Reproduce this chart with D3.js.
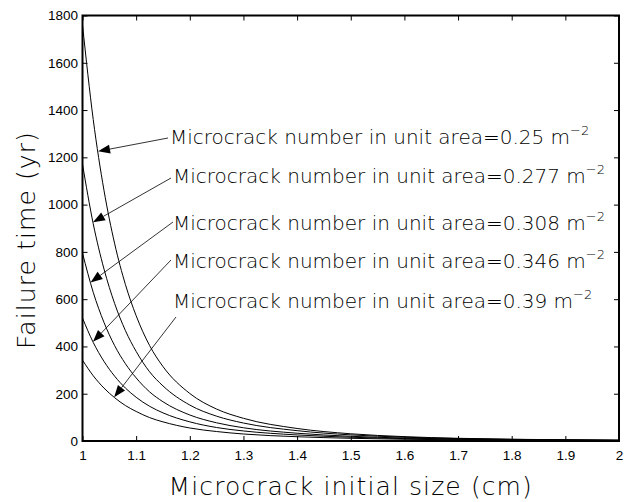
<!DOCTYPE html>
<html>
<head>
<meta charset="utf-8">
<script src="https://cdn.jsdelivr.net/npm/d3@7/dist/d3.min.js"></script>
<style>
  html, body { margin: 0; padding: 0; background: #fff; }
  svg { display: block; }
</style>
</head>
<body>
<svg id="chart" width="631" height="502"></svg>
<script>
// Initial microcrack size (cm) at which each failure time was read
const sizes = [1.00, 1.02, 1.04, 1.06, 1.08, 1.10, 1.125, 1.15, 1.2, 1.25, 1.3, 1.4, 1.5, 1.6, 1.7, 1.8, 1.9, 2.0];

// Microcrack number in unit area (m^-2) for each curve
const densities = ["0.25", "0.277", "0.308", "0.346", "0.39"];

// Failure time (yr) per curve
const time025  = [1760, 1360, 1061, 834, 662, 530, 404, 315, 201, 135, 96, 53, 30.5, 18.4, 11.4, 7.4, 5.1, 3.4];
const time0277 = [1171, 919, 728, 581, 467, 379, 293, 233, 152, 105, 76, 43.7, 25.9, 16.1, 10.2, 6.9, 4.8, 3.3];
const time0308 = [795, 629, 502, 403, 327, 267, 208, 166, 110, 77, 56, 32.9, 19.9, 12.6, 8.1, 5.5, 3.9, 2.7];
const time0346 = [520, 417, 337, 274, 224, 185, 147, 119, 81, 57, 42.5, 25.6, 15.9, 10.3, 6.8, 4.7, 3.4, 2.4];
const time039  = [342, 276, 224, 183, 150, 125, 99, 81, 55, 40, 29.6, 18.1, 11.4, 7.4, 5.0, 3.5, 2.5, 1.8];

// Size at which each label's arrow touches its curve
const arrowSizes = [1.029, 1.0195, 1.015, 1.0195, 1.059];

// Axis ticks
const xTicks = [1, 1.1, 1.2, 1.3, 1.4, 1.5, 1.6, 1.7, 1.8, 1.9, 2];
const xTickLabels = ["1", "1.1", "1.2", "1.3", "1.4", "1.5", "1.6", "1.7", "1.8", "1.9", "2"];
const yTicks = [0, 200, 400, 600, 800, 1000, 1200, 1400, 1600, 1800];
const yTickLabels = ["0", "200", "400", "600", "800", "1000", "1200", "1400", "1600", "1800"];

const series = [time025, time0277, time0308, time0346, time039];

// Layout
const plot = { left: 82.5, right: 619, top: 15.5, bottom: 441 };
const labelLayout = [
  { x: 170, y: 144, from: [168, 138] },
  { x: 173, y: 183, from: [171, 178] },
  { x: 173, y: 230, from: [173, 222] },
  { x: 173, y: 268, from: [171, 260] },
  { x: 173, y: 308, from: [176, 317] }
];

const svg = d3.select("#chart");

const x = d3.scaleLinear().domain([1, 2]).range([plot.left, plot.right]);
const y = d3.scaleLinear().domain([0, 1800]).range([plot.bottom, plot.top]);

const tickFont = "'Liberation Sans', Arial, sans-serif";
const labelFont = "'DejaVu Sans', sans-serif";

// Axes with inward ticks on all four sides
function styleAxis(g) {
  g.select(".domain").remove();
  g.selectAll(".tick line").attr("stroke", "#000").attr("stroke-width", 1);
  g.selectAll(".tick text")
    .attr("fill", "#000")
    .style("font-family", tickFont)
    .style("font-size", "13.5px");
}

svg.append("g")
  .attr("transform", `translate(0,${plot.bottom})`)
  .call(d3.axisBottom(x).tickValues(xTicks)
    .tickFormat((d, i) => xTickLabels[i]).tickSize(-5).tickSizeOuter(0).tickPadding(9))
  .call(styleAxis);

svg.append("g")
  .attr("transform", `translate(${plot.left},0)`)
  .call(d3.axisLeft(y).tickValues(yTicks)
    .tickFormat((d, i) => yTickLabels[i]).tickSize(-5).tickSizeOuter(0).tickPadding(4.5))
  .call(styleAxis);

svg.append("g")
  .attr("transform", `translate(0,${plot.top})`)
  .call(d3.axisTop(x).tickValues(xTicks).tickFormat("").tickSize(-5).tickSizeOuter(0))
  .call(styleAxis);

svg.append("g")
  .attr("transform", `translate(${plot.right},0)`)
  .call(d3.axisRight(y).tickValues(yTicks).tickFormat("").tickSize(-5).tickSizeOuter(0))
  .call(styleAxis);

// Curves
const line = d3.line()
  .x((d, i) => x(sizes[i]))
  .y(d => y(d))
  .curve(d3.curveMonotoneX);

svg.append("g")
  .selectAll("path")
  .data(series)
  .join("path")
  .attr("d", d => line(d))
  .attr("fill", "none")
  .attr("stroke", "#000")
  .attr("stroke-width", 1);

// Plot frame
svg.append("rect")
  .attr("x", plot.left)
  .attr("y", plot.top)
  .attr("width", plot.right - plot.left)
  .attr("height", plot.bottom - plot.top)
  .attr("fill", "none")
  .attr("stroke", "#000")
  .attr("stroke-width", 2);

// Read a curve's value at a given size
function valueAt(values, s) {
  const i = Math.max(1, d3.bisectLeft(sizes, s));
  const s0 = sizes[i - 1], s1 = sizes[i];
  const t = (s - s0) / (s1 - s0);
  return values[i - 1] + t * (values[i] - values[i - 1]);
}

// Labels with leader lines and filled arrowheads
const ann = svg.append("g");
densities.forEach((dens, k) => {
  const lay = labelLayout[k];
  const tipX = x(arrowSizes[k]);
  const tipY = y(valueAt(series[k], arrowSizes[k]));
  const [fx, fy] = lay.from;
  const dx = tipX - fx, dy = tipY - fy;
  const len = Math.hypot(dx, dy);
  const ux = dx / len, uy = dy / len;
  const headLen = 12, headHalf = 4.5;
  const bx = tipX - ux * headLen, by = tipY - uy * headLen;

  ann.append("line")
    .attr("x1", fx).attr("y1", fy)
    .attr("x2", bx).attr("y2", by)
    .attr("stroke", "#000")
    .attr("stroke-width", 0.8);

  ann.append("path")
    .attr("d", `M${tipX},${tipY}L${bx - uy * headHalf},${by + ux * headHalf}L${bx + uy * headHalf},${by - ux * headHalf}Z`)
    .attr("fill", "#000");

  const t = ann.append("text")
    .attr("x", lay.x)
    .attr("y", lay.y)
    .style("font-family", labelFont)
    .style("font-size", "20px")
    .style("font-weight", 300)
    .attr("fill", "#000");
  t.append("tspan").text(`Microcrack number in unit area=${dens} m`);
  t.append("tspan")
    .attr("dy", -9)
    .style("font-size", "13px")
    .text("\u22122");
});

// Axis titles
svg.append("text")
  .attr("x", (plot.left + plot.right) / 2)
  .attr("y", 495)
  .attr("text-anchor", "middle")
  .style("font-family", labelFont)
  .style("font-size", "25px")
  .style("font-weight", 300)
  .style("letter-spacing", "1.1px")
  .attr("fill", "#000")
  .text("Microcrack initial size (cm)");

svg.append("text")
  .attr("transform", "translate(35,240) rotate(-90)")
  .attr("text-anchor", "middle")
  .style("font-family", labelFont)
  .style("font-size", "25px")
  .style("font-weight", 300)
  .style("letter-spacing", "1.1px")
  .attr("fill", "#000")
  .text("Failure time (yr)");
</script>
</body>
</html>
